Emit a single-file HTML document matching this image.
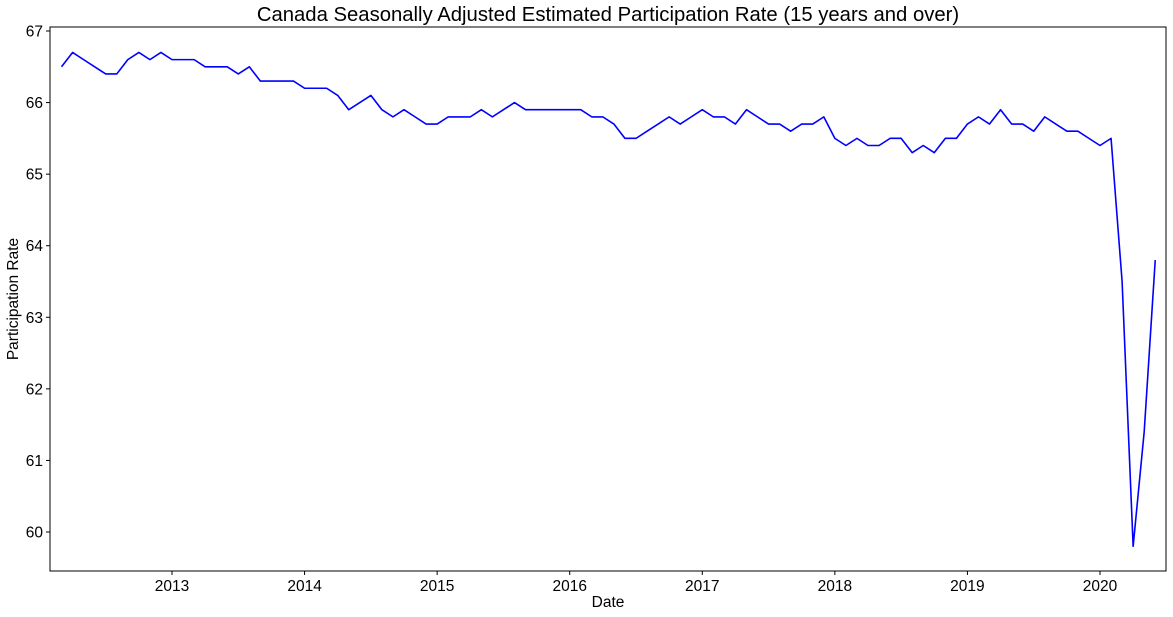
<!DOCTYPE html>
<html><head><meta charset="utf-8"><style>
html,body{margin:0;padding:0;background:#fff;}
svg{display:block;font-family:"Liberation Sans",sans-serif;}
</style></head><body>
<svg id="chart" width="1173" height="617"></svg>
<script>
const startYear = 2012, startMonth = 3;
const values = [66.5,66.7,66.6,66.5,66.4,66.4,66.6,66.7,66.6,66.7,
66.6,66.6,66.6,66.5,66.5,66.5,66.4,66.5,66.3,66.3,
66.3,66.3,66.2,66.2,66.2,66.1,65.9,66.0,66.1,65.9,
65.8,65.9,65.8,65.7,65.7,65.8,65.8,65.8,65.9,65.8,
65.9,66.0,65.9,65.9,65.9,65.9,65.9,65.9,65.8,65.8,
65.7,65.5,65.5,65.6,65.7,65.8,65.7,65.8,65.9,65.8,
65.8,65.7,65.9,65.8,65.7,65.7,65.6,65.7,65.7,65.8,
65.5,65.4,65.5,65.4,65.4,65.5,65.5,65.3,65.4,65.3,
65.5,65.5,65.7,65.8,65.7,65.9,65.7,65.7,65.6,65.8,
65.7,65.6,65.6,65.5,65.4,65.5,63.5,59.8,61.4,63.8];
const xTicks = [2013,2014,2015,2016,2017,2018,2019,2020];
const yTicks = [60,61,62,63,64,65,66,67];

const L=50,R=1166,T=27,B=571;
const NS="http://www.w3.org/2000/svg";
const svg=document.getElementById('chart');
function xs(monthsFrom2013){return 172+monthsFrom2013*(928/84);}
function xDate(y,m){return xs((y-2013)*12+(m-1));}
function ys(v){return 532+(60-v)*(501/7);}
function mk(tag,attrs,parent){const e=document.createElementNS(NS,tag);for(const k in attrs)e.setAttribute(k,attrs[k]);(parent||svg).appendChild(e);return e;}

const title=mk('text',{x:608,y:21,'text-anchor':'middle','font-size':20.3,fill:'#000'});


title.textContent='Canada Seasonally Adjusted Estimated Participation Rate (15 years and over)';

const frame=mk('rect',{x:L,y:T,width:R-L,height:B-T,fill:'none',stroke:'#000','stroke-width':1});



xTicks.forEach(yr=>{
  const x=xDate(yr,1);
  const t=mk('line',{x1:x,x2:x,y1:B,y2:B+4,stroke:'#000'});
  
  
  const l=mk('text',{x:x,y:B+20,'text-anchor':'middle','font-size':15.5});
  
  
  l.textContent=yr;
});
yTicks.forEach(v=>{
  const y=ys(v);
  const t=mk('line',{x1:L-4,x2:L,y1:y,y2:y,stroke:'#000'});
  
  
  const l=mk('text',{x:L-7,y:y+5.5,'text-anchor':'end','font-size':15.5});
  
  
  l.textContent=v;
});
const xl=mk('text',{x:608,y:607,'text-anchor':'middle','font-size':15.5});


xl.textContent='Date';
const yl=mk('text',{x:18,y:299,'text-anchor':'middle','font-size':15.5,transform:'rotate(-90 18 299)'});


yl.textContent='Participation Rate';

const pts=values.map((v,i)=>{const mi=(startYear-2013)*12+(startMonth-1)+i;return xs(mi).toFixed(2)+','+ys(v).toFixed(2);});
const line=mk('polyline',{points:pts.join(' '),fill:'none',stroke:'#0000ff','stroke-width':1.6,'stroke-linejoin':'round'});


</script>
</body></html>
